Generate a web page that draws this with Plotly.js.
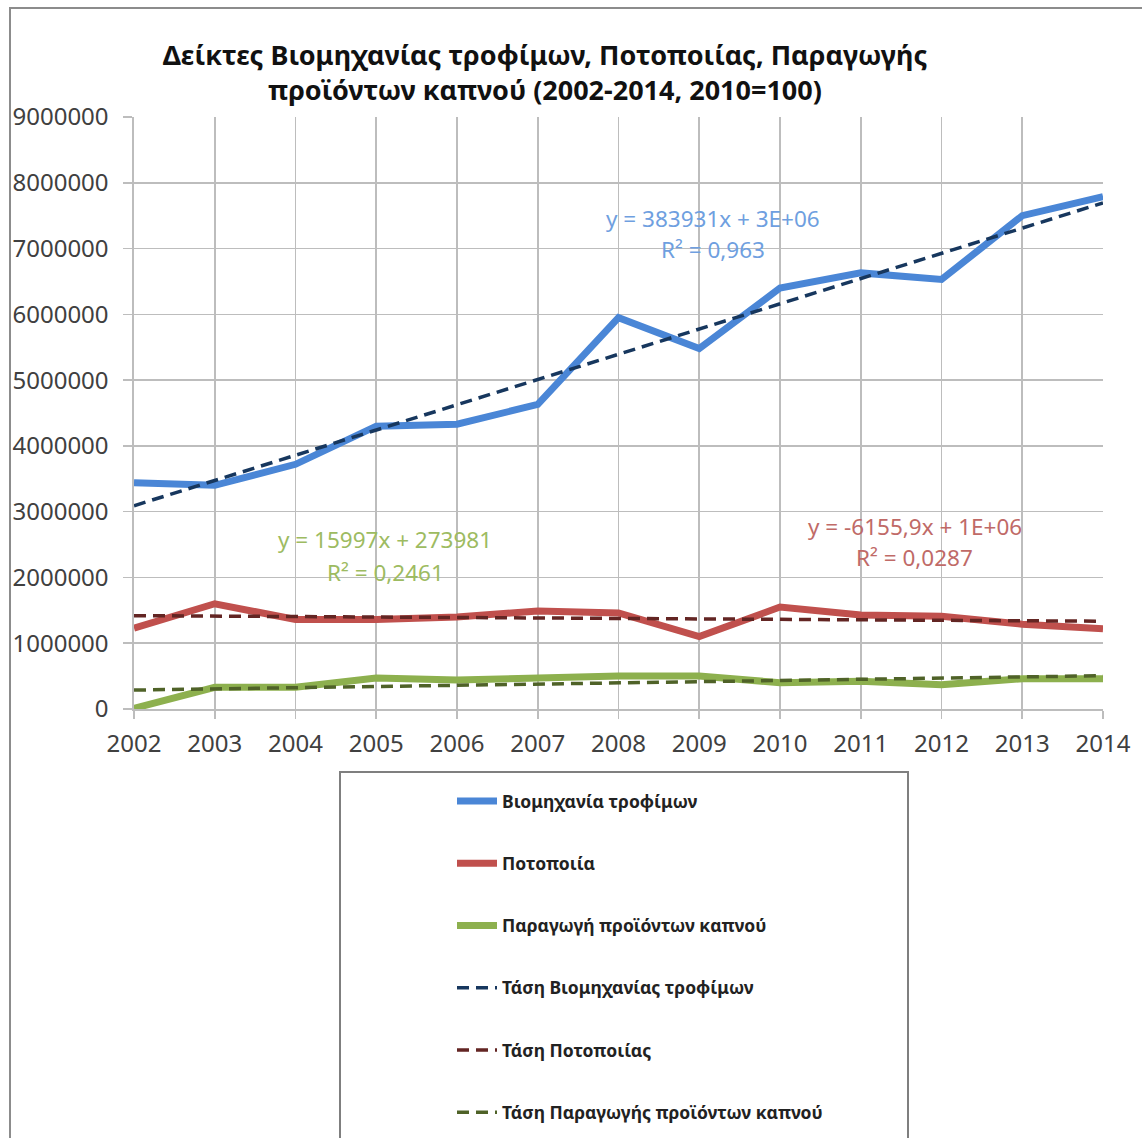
<!DOCTYPE html>
<html>
<head>
<meta charset="utf-8">
<script src="https://cdn.plot.ly/plotly-3.0.1.min.js"></script>
<style>
  html, body { margin: 0; padding: 0; background: #ffffff; }
  #chart { width: 1142px; height: 1138px; }
</style>
</head>
<body>
<div id="chart"></div>
<script>
// ---------------- DATA ----------------
const years = [2002, 2003, 2004, 2005, 2006, 2007, 2008, 2009, 2010, 2011, 2012, 2013, 2014];
const food     = [3440000, 3400000, 3720000, 4300000, 4330000, 4630000, 5950000, 5480000, 6400000, 6630000, 6530000, 7500000, 7790000];
const beverage = [1230000, 1600000, 1360000, 1360000, 1400000, 1490000, 1460000, 1100000, 1550000, 1430000, 1410000, 1290000, 1220000];
const tobacco  = [10000, 330000, 330000, 470000, 440000, 470000, 500000, 500000, 400000, 420000, 370000, 460000, 460000];

const seriesNames = ["Βιομηχανία τροφίμων", "Ποτοποιία", "Παραγωγή προϊόντων καπνού"];
const trendNames = ["Τάση Βιομηχανίας τροφίμων", "Τάση Ποτοποιίας", "Τάση Παραγωγής προϊόντων καπνού"];
const trendLabels = [
  ["y = 383931x + 3E+06", "R² = 0,963"],
  ["y = -6155,9x + 1E+06", "R² = 0,0287"],
  ["y = 15997x + 273981", "R² = 0,2461"]
];
const yTicks = [0, 1000000, 2000000, 3000000, 4000000, 5000000, 6000000, 7000000, 8000000, 9000000];
const titleText = "Δείκτες Βιομηχανίας τροφίμων, Ποτοποιίας, Παραγωγής<br>προϊόντων καπνού (2002-2014, 2010=100)";

// ---------------- HELPERS ----------------
function linFit(ys) {
  // Excel-style linear trend with x = 1..n
  const n = ys.length;
  const xs = ys.map((_, i) => i + 1);
  const mx = xs.reduce((a, b) => a + b, 0) / n;
  const my = ys.reduce((a, b) => a + b, 0) / n;
  let sxy = 0, sxx = 0;
  for (let i = 0; i < n; i++) { sxy += (xs[i] - mx) * (ys[i] - my); sxx += (xs[i] - mx) ** 2; }
  const m = sxy / sxx, b = my - m * mx;
  return xs.map(x => m * x + b);
}

const W = 1142, H = 1138;
const L = 134, R = 1103, T = 117, B = 709;
const pw = R - L, ph = B - T;
const px = x => (x - L) / pw;
const py = y => (B - y) / ph;

const FONT = "Noto Sans, Open Sans, DejaVu Sans, sans-serif";
const colors = ["#4a86d6", "#c0504d", "#8db04e"];
const trendColors = ["#17375e", "#632523", "#4f6228"];
const labelColors = ["#6f9fe0", "#c06a67", "#9dbb61"];

const allSeries = [food, beverage, tobacco];

const traces = [];
allSeries.forEach((s, i) => {
  traces.push({
    x: years, y: s, type: "scatter", mode: "lines", name: seriesNames[i],
    legendgroup: "g" + i,
    line: { color: colors[i], width: 7 }
  });
});
allSeries.forEach((s, i) => {
  traces.push({
    x: years, y: linFit(s), type: "scatter", mode: "lines", name: trendNames[i],
    legendgroup: "t" + i,
    line: { color: trendColors[i], width: 3.5, dash: "12px,7px" }
  });
});

// label positions (data coords), centre of each text line
const labelPos = [
  { x: 2009.17, y1: 7450000, y2: 6980000 },
  { x: 2011.67, y1: 2780000, y2: 2310000 },
  { x: 2005.11, y1: 2570000, y2: 2080000 }
];
const annotations = [];
labelPos.forEach((p, i) => {
  annotations.push({ x: p.x, y: p.y1, xref: "x", yref: "y", text: trendLabels[i][0], showarrow: false,
    font: { family: FONT, size: 22.5, color: labelColors[i] }, xanchor: "center", yanchor: "middle" });
  annotations.push({ x: p.x, y: p.y2, xref: "x", yref: "y", text: trendLabels[i][1], showarrow: false,
    font: { family: FONT, size: 22.5, color: labelColors[i] }, xanchor: "center", yanchor: "middle" });
});

const shapes = [
  // outer chart border
  { type: "rect", xref: "paper", yref: "paper", x0: px(10), x1: px(W + 20), y0: py(8), y1: py(H + 20),
    line: { color: "#8c8c8c", width: 2 }, fillcolor: "rgba(0,0,0,0)" },
  // legend box
  { type: "rect", xref: "paper", yref: "paper", x0: px(340), x1: px(908), y0: py(772), y1: py(H + 20),
    line: { color: "#7f7f7f", width: 2 }, fillcolor: "rgba(0,0,0,0)" }
];

const layout = {
  width: W, height: H,
  margin: { l: L, r: W - R, t: T, b: H - B, pad: 0, autoexpand: false },
  paper_bgcolor: "#ffffff", plot_bgcolor: "#ffffff",
  title: {
    text: titleText,
    font: { family: FONT, size: 27, color: "#111111", weight: "bold" },
    x: 545 / W, xref: "container", xanchor: "center",
    y: 1 - 65 / H, yref: "container", yanchor: "top"
  },
  xaxis: {
    range: [2002, 2014], tickvals: years, ticktext: years.map(String),
    showgrid: true, gridcolor: "#bdbdbd", gridwidth: 1.6,
    showline: true, linecolor: "#bdbdbd", linewidth: 1.6,
    ticks: "outside", ticklen: 8, tickcolor: "#bdbdbd", tickwidth: 1.6,
    tickfont: { family: FONT, size: 24, color: "#404040" },
    ticklabelstandoff: 5,
    zeroline: false, fixedrange: true
  },
  yaxis: {
    range: [0, 9000000], tickvals: yTicks, ticktext: yTicks.map(String),
    showgrid: true, gridcolor: "#bdbdbd", gridwidth: 1.6,
    showline: true, linecolor: "#bdbdbd", linewidth: 1.6,
    ticks: "outside", ticklen: 9, tickcolor: "#bdbdbd", tickwidth: 1.6,
    tickfont: { family: FONT, size: 24, color: "#404040" },
    ticklabelstandoff: 10,
    zeroline: false, fixedrange: true
  },
  showlegend: true,
  legend: {
    x: 452 / W, xref: "container", xanchor: "left",
    y: 1 - 783 / H, yref: "container", yanchor: "top",
    bgcolor: "rgba(0,0,0,0)", borderwidth: 0,
    font: { family: FONT, size: 17.5, color: "#222222", weight: "bold" },
    tracegroupgap: 36.5, traceorder: "grouped", itemwidth: 40
  },
  annotations: annotations,
  shapes: shapes
};

Plotly.newPlot("chart", traces, layout, { displayModeBar: false, staticPlot: true });
</script>
</body>
</html>
